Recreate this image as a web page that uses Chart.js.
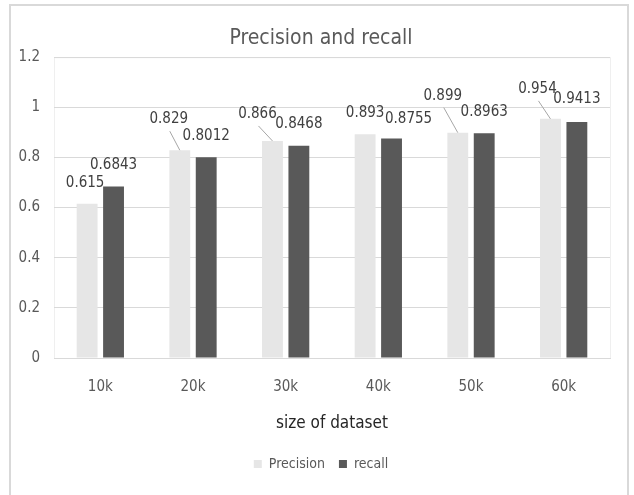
<!DOCTYPE html>
<html lang="en">
<head>
  <meta charset="UTF-8">
  <title>Precision and recall</title>
  <script src="https://cdn.jsdelivr.net/npm/chart.js"></script>
  <style>
    body { margin: 0; background: #fff; }
    #wrap { width: 634px; height: 495px; }
  </style>
</head>
<body>
  <div id="wrap"><canvas id="prChart" width="634" height="495"></canvas></div>
  <script>
    const sizes = ['10k', '20k', '30k', '40k', '50k', '60k'];
    const precision = [0.615, 0.829, 0.866, 0.893, 0.899, 0.954];
    const recall = [0.6843, 0.8012, 0.8468, 0.8755, 0.8963, 0.9413];
    const labelText = [
      ['0.615', '0.829', '0.866', '0.893', '0.899', '0.954'],
      ['0.6843', '0.8012', '0.8468', '0.8755', '0.8963', '0.9413']
    ];

    const FONT = "'Liberation Sans Narrow', 'DejaVu Sans Condensed', 'Open Sans', sans-serif";

    // where excel put each label, relative to the top of its bar
    const nudge = [
      [[-2, -21], [-11, -31], [-15, -27], [0, -21], [-15, -37], [-13, -30]],
      [[0, -21], [0, -21], [0, -22], [17, -19], [0, -21], [0, -23]]
    ];

    const frame = {
      id: 'frame',
      beforeDraw(chart) {
        const ctx = chart.ctx, a = chart.chartArea;
        ctx.save();
        ctx.strokeStyle = '#d9d9d9';
        ctx.lineWidth = 2;
        ctx.strokeRect(10, 5, 618, 500);
        ctx.strokeStyle = '#efefef';
        ctx.lineWidth = 1;
        ctx.strokeRect(a.left + 0.5, a.top + 0.5, a.right - a.left, a.bottom - a.top);
        ctx.restore();
      }
    };

    const valueLabels = {
      id: 'valueLabels',
      afterDatasetsDraw(chart) {
        const ctx = chart.ctx;
        ctx.save();
        ctx.font = '15px ' + FONT;
        ctx.fillStyle = '#404040';
        ctx.textAlign = 'center';
        ctx.textBaseline = 'middle';
        chart.data.datasets.forEach((ds, d) => {
          chart.getDatasetMeta(d).data.forEach((bar, i) => {
            const [dx, dy] = nudge[d][i];
            const lx = bar.x + dx, ly = bar.y + dy;
            ctx.fillText(labelText[d][i], lx, ly);
            if (dy < -25) {
              ctx.strokeStyle = '#a6a6a6';
              ctx.lineWidth = 1;
              ctx.beginPath();
              ctx.moveTo(lx + 1, ly + 12);
              ctx.lineTo(bar.x, bar.y);
              ctx.stroke();
            }
          });
        });
        ctx.restore();
      }
    };

    new Chart(document.getElementById('prChart'), {
      type: 'bar',
      data: {
        labels: sizes,
        datasets: [
          { label: 'Precision', data: precision, backgroundColor: '#e6e6e6' },
          { label: 'recall', data: recall, backgroundColor: '#595959' }
        ]
      },
      options: {
        responsive: false,
        animation: false,
        categoryPercentage: 0.57,
        barPercentage: 0.79,
        layout: { padding: { left: 18, right: 10, top: 0, bottom: 14 } },
        scales: {
          x: {
            grid: { display: false, drawTicks: false },
            border: { color: '#d9d9d9', width: 1 },
            ticks: { color: '#595959', font: { family: FONT, size: 15 }, padding: 20 },
            title: {
              display: true, text: 'size of dataset', color: '#262626',
              font: { family: FONT, size: 17 }, padding: { top: 19, bottom: 9 }
            },
            afterFit(s) { s.height = 85; }
          },
          y: {
            min: 0, max: 1.2,
            ticks: {
              stepSize: 0.2, color: '#595959', font: { family: FONT, size: 15 }, padding: 14,
              callback: v => String(Number(v.toFixed(1)))
            },
            grid: { color: '#d9d9d9', drawTicks: false },
            border: { display: false },
            afterFit(s) { s.width = 36; }
          },
          // empty strip on the right so the plot ends where excel's did
          spacer: {
            position: 'right',
            min: 0, max: 1.2,
            ticks: { display: false },
            grid: { display: false, drawTicks: false },
            border: { display: false },
            afterFit(s) { s.width = 14; }
          }
        },
        plugins: {
          title: {
            display: true, text: 'Precision and recall', color: '#595959',
            font: { family: FONT, size: 21, weight: 'normal' },
            padding: { top: 26, bottom: 6 }
          },
          legend: {
            position: 'bottom',
            labels: {
              color: '#595959', font: { family: FONT, size: 14 },
              boxWidth: 8, boxHeight: 8, padding: 14
            }
          },
          tooltip: { enabled: false }
        }
      },
      plugins: [frame, valueLabels]
    });
  </script>
</body>
</html>
